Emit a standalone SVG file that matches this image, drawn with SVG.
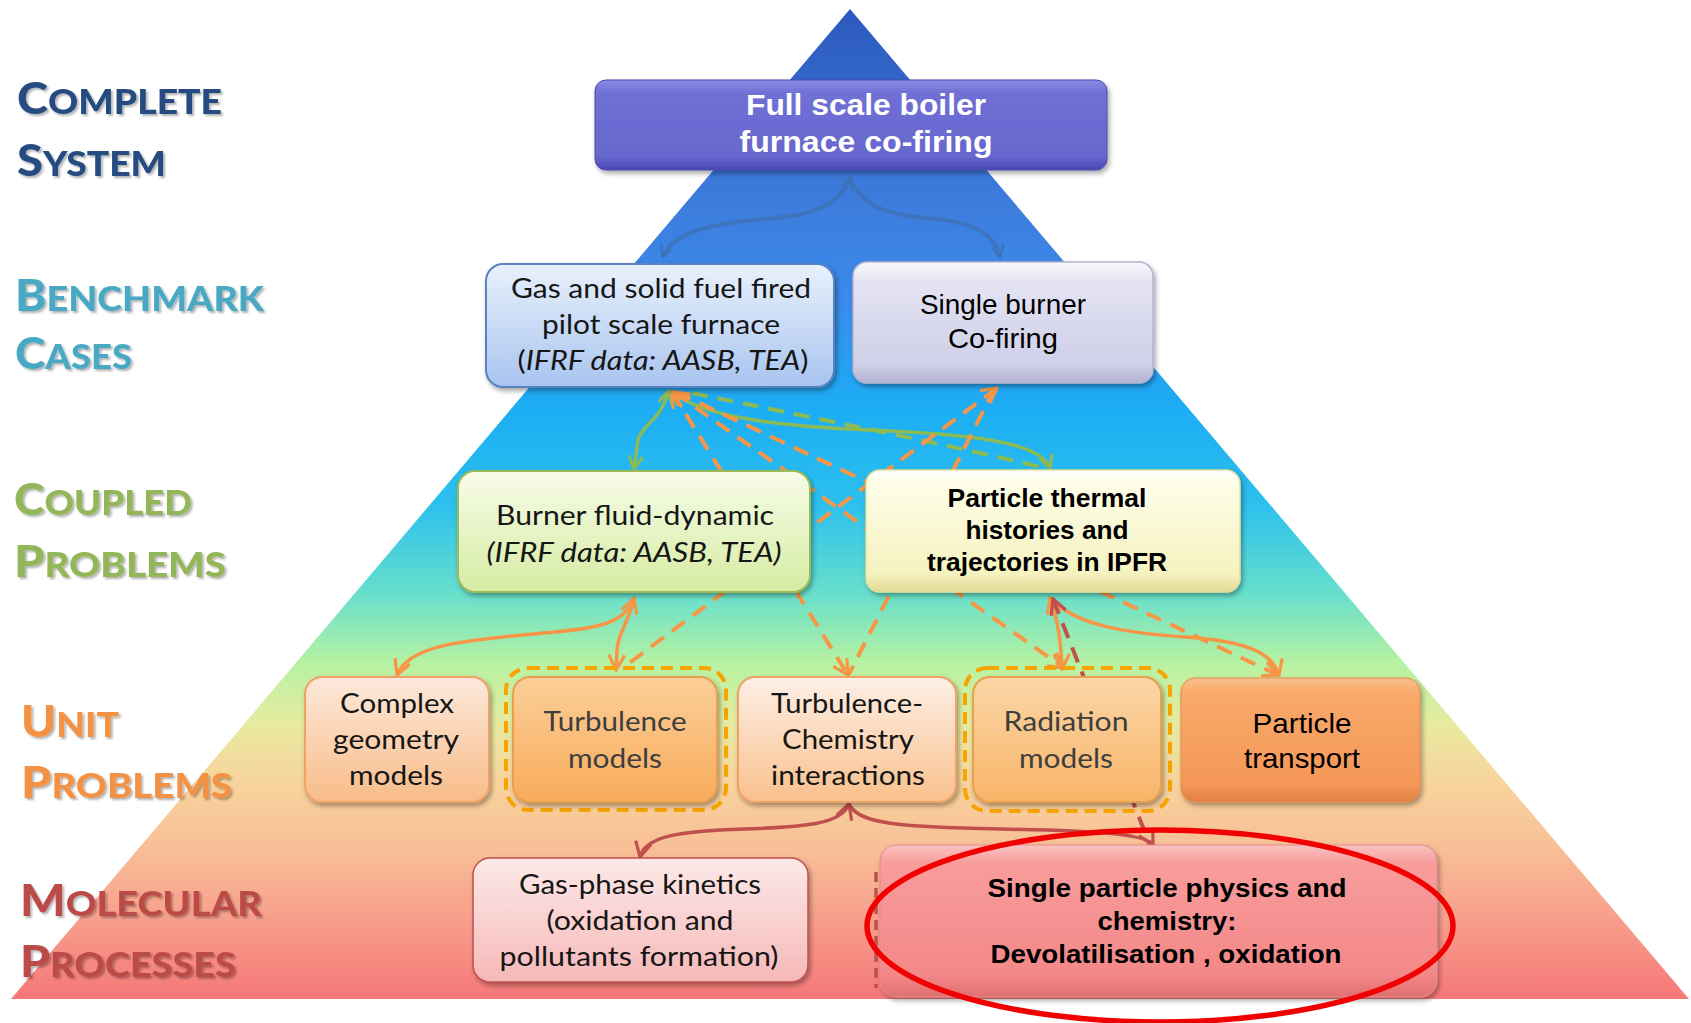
<svg xmlns="http://www.w3.org/2000/svg" width="1691" height="1023" viewBox="0 0 1691 1023">
<defs>
<style>
.lbl{font-family:Lato,"Open Sans","Liberation Sans",sans-serif;font-weight:900;filter:url(#tsh)}
.cal{font-family:Lato,"Open Sans","Liberation Sans",sans-serif;font-size:27px;fill:#161616;text-anchor:middle}
.gry{fill:#3e3e3e}
.ari{font-family:"Liberation Sans",Arial,sans-serif;text-anchor:middle;fill:#000}
.bold{font-weight:700}
.it{font-style:italic}
.box{filter:url(#sh)}
.dbox{fill:none;stroke:#f7a400;stroke-width:4;stroke-dasharray:12 7}
.cb{fill:none;stroke:#3f6fb0;stroke-width:4;stroke-opacity:.7}
.cg{fill:none;stroke:#8cbb56;stroke-width:3.5}
.co{fill:none;stroke:#f79646;stroke-width:3.5}
.cr{fill:none;stroke:#c0504d;stroke-width:3.5}
.dash{stroke-dasharray:16 10;stroke-width:4}
</style>
<linearGradient id="pyr" gradientUnits="userSpaceOnUse" x1="0" y1="9" x2="0" y2="999">
<stop offset="0" stop-color="#2c59be"/>
<stop offset="0.2" stop-color="#3d7ddd"/>
<stop offset="0.3" stop-color="#3a8cee"/>
<stop offset="0.4" stop-color="#1cacf4"/>
<stop offset="0.5" stop-color="#2cc0ee"/>
<stop offset="0.59" stop-color="#66dfcc"/>
<stop offset="0.66" stop-color="#b6f2a2"/>
<stop offset="0.72" stop-color="#e6eba0"/>
<stop offset="0.78" stop-color="#f8d49c"/>
<stop offset="0.85" stop-color="#f8be96"/>
<stop offset="0.92" stop-color="#f89e8c"/>
<stop offset="1" stop-color="#f67878"/>
</linearGradient>
<linearGradient id="gFull" x1="0" y1="0" x2="0" y2="1"><stop offset="0" stop-color="#8a8ae6"/><stop offset="0.15" stop-color="#6f6fd5"/><stop offset="0.85" stop-color="#6767ce"/><stop offset="1" stop-color="#4848b2"/></linearGradient>
<linearGradient id="gGas" x1="0" y1="0" x2="0" y2="1"><stop offset="0" stop-color="#e9f1fc"/><stop offset="1" stop-color="#a8c4ef"/></linearGradient>
<linearGradient id="gSingle" x1="0" y1="0" x2="0" y2="1"><stop offset="0" stop-color="#fafafe"/><stop offset="0.15" stop-color="#e4e4f4"/><stop offset="0.85" stop-color="#cfcfe8"/><stop offset="1" stop-color="#b2b2d2"/></linearGradient>
<linearGradient id="gBurner" x1="0" y1="0" x2="0" y2="1"><stop offset="0" stop-color="#f8fce9"/><stop offset="1" stop-color="#d5eca2"/></linearGradient>
<linearGradient id="gPT" x1="0" y1="0" x2="0" y2="1"><stop offset="0" stop-color="#ffffff"/><stop offset="0.12" stop-color="#fdfde6"/><stop offset="0.85" stop-color="#f6f2c0"/><stop offset="1" stop-color="#e2da94"/></linearGradient>
<linearGradient id="gComplex" x1="0" y1="0" x2="0" y2="1"><stop offset="0" stop-color="#fde9dc"/><stop offset="1" stop-color="#f8bc88"/></linearGradient>
<linearGradient id="gTurb" x1="0" y1="0" x2="0" y2="1"><stop offset="0" stop-color="#fbcf98"/><stop offset="1" stop-color="#f8ab5c"/></linearGradient>
<linearGradient id="gTC" x1="0" y1="0" x2="0" y2="1"><stop offset="0" stop-color="#fdefe6"/><stop offset="1" stop-color="#f9c08c"/></linearGradient>
<linearGradient id="gRad" x1="0" y1="0" x2="0" y2="1"><stop offset="0" stop-color="#fbd6a6"/><stop offset="1" stop-color="#f8b468"/></linearGradient>
<linearGradient id="gTrans" x1="0" y1="0" x2="0" y2="1"><stop offset="0" stop-color="#fbc090"/><stop offset="0.12" stop-color="#f8a96a"/><stop offset="0.85" stop-color="#f59858"/><stop offset="1" stop-color="#e08040"/></linearGradient>
<linearGradient id="gGasPh" x1="0" y1="0" x2="0" y2="1"><stop offset="0" stop-color="#fde9e9"/><stop offset="1" stop-color="#f6b8b8"/></linearGradient>
<linearGradient id="gSP" x1="0" y1="0" x2="0" y2="1"><stop offset="0" stop-color="#fcc2c2"/><stop offset="0.12" stop-color="#f89c9c"/><stop offset="0.85" stop-color="#f48888"/><stop offset="1" stop-color="#e07070"/></linearGradient>
<filter id="sh" x="-10%" y="-10%" width="125%" height="140%"><feDropShadow dx="2" dy="3" stdDeviation="2.5" flood-color="#000" flood-opacity="0.35"/></filter>
<filter id="tsh" x="-5%" y="-20%" width="115%" height="150%"><feDropShadow dx="2" dy="2" stdDeviation="1.3" flood-color="#000" flood-opacity="0.3"/></filter>
<marker id="aB" viewBox="0 0 14 14" refX="12" refY="7" markerWidth="14" markerHeight="14" markerUnits="userSpaceOnUse" orient="auto-start-reverse"><path d="M1,1 L12,7 L1,13" fill="none" stroke="#3f6fb0" stroke-opacity=".7" stroke-width="2.5"/></marker>
<marker id="aG" viewBox="0 0 16 16" refX="14" refY="8" markerWidth="16" markerHeight="16" markerUnits="userSpaceOnUse" orient="auto-start-reverse"><path d="M1,1 L14,8 L1,15" fill="none" stroke="#8cbb56" stroke-width="3"/></marker>
<marker id="aO" viewBox="0 0 18 18" refX="16" refY="9" markerWidth="18" markerHeight="18" markerUnits="userSpaceOnUse" orient="auto-start-reverse"><path d="M1,1 L16,9 L1,17" fill="none" stroke="#f79646" stroke-width="3.2"/></marker>
<marker id="aR" viewBox="0 0 18 18" refX="16" refY="9" markerWidth="18" markerHeight="18" markerUnits="userSpaceOnUse" orient="auto-start-reverse"><path d="M1,1 L16,9 L1,17" fill="none" stroke="#c0504d" stroke-width="3.2"/></marker>
</defs>
<rect width="1691" height="1023" fill="#fff"/>
<polygon id="pyramid" points="850,9 1689,999 11,999" fill="url(#pyr)"/>

<g id="level-labels">
<text class="lbl" x="17" y="114" fill="#254c80" textLength="205" lengthAdjust="spacingAndGlyphs"><tspan font-size="43">C</tspan><tspan font-size="34">OMPLETE</tspan></text>
<text class="lbl" x="17" y="176" fill="#254c80" textLength="149" lengthAdjust="spacingAndGlyphs"><tspan font-size="43">S</tspan><tspan font-size="34">YSTEM</tspan></text>
<text class="lbl" x="15" y="311" fill="#4aa9c5" textLength="249" lengthAdjust="spacingAndGlyphs"><tspan font-size="43">B</tspan><tspan font-size="34">ENCHMARK</tspan></text>
<text class="lbl" x="15" y="369" fill="#4aa9c5" textLength="117" lengthAdjust="spacingAndGlyphs"><tspan font-size="43">C</tspan><tspan font-size="34">ASES</tspan></text>
<text class="lbl" x="14" y="515" fill="#92b658" textLength="178" lengthAdjust="spacingAndGlyphs"><tspan font-size="43">C</tspan><tspan font-size="34">OUPLED</tspan></text>
<text class="lbl" x="14" y="577" fill="#92b658" textLength="212" lengthAdjust="spacingAndGlyphs"><tspan font-size="43">P</tspan><tspan font-size="34">ROBLEMS</tspan></text>
<text class="lbl" x="21" y="737" fill="#f39244" textLength="98" lengthAdjust="spacingAndGlyphs"><tspan font-size="43">U</tspan><tspan font-size="34">NIT</tspan></text>
<text class="lbl" x="21" y="798" fill="#f39244" textLength="211" lengthAdjust="spacingAndGlyphs"><tspan font-size="43">P</tspan><tspan font-size="34">ROBLEMS</tspan></text>
<text class="lbl" x="20" y="916" fill="#bb4c4a" textLength="242" lengthAdjust="spacingAndGlyphs"><tspan font-size="43">M</tspan><tspan font-size="34">OLECULAR</tspan></text>
<text class="lbl" x="20" y="977" fill="#bb4c4a" textLength="216" lengthAdjust="spacingAndGlyphs"><tspan font-size="43">P</tspan><tspan font-size="34">ROCESSES</tspan></text>
</g>

<g id="connectors">
<path class="cb" d="M850,178 C840,205 815,215 765,219 C710,224 672,232 663,257" marker-start="url(#aB)" marker-end="url(#aB)"/>
<path class="cb" d="M850,178 C860,205 885,215 935,219 C975,223 995,235 1000,257" marker-end="url(#aB)"/>
<path class="cg" d="M668,391 C662,420 642,424 638,440 L634,469" marker-start="url(#aG)" marker-end="url(#aG)"/>
<path class="cg" d="M672,392 C705,418 780,426 870,430 C960,434 1040,440 1050,468" marker-start="url(#aG)" marker-end="url(#aG)"/>
<path class="cg dash" d="M692,393 C800,415 950,445 1045,468"/>
<path class="co dash" d="M672,392 L848,675" marker-start="url(#aO)" marker-end="url(#aO)"/>
<path class="co dash" d="M674,392 L1064,668" marker-start="url(#aO)" marker-end="url(#aO)"/>
<path class="co dash" d="M676,392 L1278,675" marker-end="url(#aO)"/>
<path class="co dash" d="M997,388 L624,667" marker-start="url(#aO)"/>
<path class="co dash" d="M995,388 L849,674"/>
<path class="co" d="M634,598 C626,622 600,628 555,632 C475,640 410,642 397,675" marker-start="url(#aO)" marker-end="url(#aO)"/>
<path class="co" d="M634,598 C628,625 618,632 617,650 L616,670" marker-end="url(#aO)"/>
<path class="co" d="M1050,598 C1058,622 1061,640 1062,669" marker-start="url(#aO)" marker-end="url(#aO)"/>
<path class="co" d="M1050,598 C1075,625 1125,633 1185,637 C1245,641 1272,652 1279,675" marker-end="url(#aO)"/>
<path class="cr dash" d="M1053,599 L1150,845" marker-start="url(#aR)"/>
<path class="cr" d="M849,804 C842,824 805,827 745,829 C680,831 645,836 640,857" marker-start="url(#aR)" marker-end="url(#aR)"/>
<path class="cr" d="M849,804 C858,824 900,827 1000,829 C1100,831 1147,834 1153,845" marker-end="url(#aR)"/>
<path class="cr" d="M876,872 L876,988" stroke-dasharray="10 6"/>
</g>

<g id="node-full-scale">
<rect class="box" x="595" y="80" width="512" height="90" rx="11" fill="url(#gFull)" stroke="#4a4ab0" stroke-width="1"/>
<text class="ari bold" x="866" y="115" font-size="29" style="fill:#fff" textLength="240" lengthAdjust="spacingAndGlyphs">Full scale boiler</text>
<text class="ari bold" x="866" y="152" font-size="29" style="fill:#fff" textLength="253" lengthAdjust="spacingAndGlyphs">furnace co-firing</text>
</g>

<g id="node-gas-solid">
<rect class="box" x="486" y="264" width="348" height="123" rx="17" fill="url(#gGas)" stroke="#5a82c0" stroke-width="2"/>
<text class="cal" x="661" y="298" textLength="300" lengthAdjust="spacingAndGlyphs">Gas and solid fuel fired</text>
<text class="cal" x="661" y="334" textLength="238" lengthAdjust="spacingAndGlyphs">pilot scale furnace</text>
<text class="cal" x="663" y="370" textLength="291" lengthAdjust="spacingAndGlyphs">(<tspan class="it">IFRF data: AASB, TEA</tspan>)</text>
</g>

<g id="node-single-burner">
<rect class="box" x="853" y="262" width="300" height="121" rx="14" fill="url(#gSingle)" stroke="#b4b4d0" stroke-width="1.5"/>
<text class="ari" x="1003" y="314" font-size="28" textLength="166" lengthAdjust="spacingAndGlyphs">Single burner</text>
<text class="ari" x="1003" y="348" font-size="28" textLength="110" lengthAdjust="spacingAndGlyphs">Co-firing</text>
</g>

<g id="node-burner-fluid">
<rect class="box" x="458" y="471" width="352" height="121" rx="17" fill="url(#gBurner)" stroke="#9bbb59" stroke-width="2"/>
<text class="cal" x="635" y="525" textLength="278" lengthAdjust="spacingAndGlyphs">Burner fluid-dynamic</text>
<text class="cal it" x="634" y="562" textLength="295" lengthAdjust="spacingAndGlyphs">(IFRF data: AASB, TEA)</text>
</g>

<g id="node-particle-thermal">
<rect class="box" x="866" y="470" width="374" height="122" rx="14" fill="url(#gPT)" stroke="#e4df9e" stroke-width="1.5"/>
<text class="ari bold" x="1047" y="507" font-size="25" textLength="199" lengthAdjust="spacingAndGlyphs">Particle thermal</text>
<text class="ari bold" x="1047" y="539" font-size="25" textLength="163" lengthAdjust="spacingAndGlyphs">histories and</text>
<text class="ari bold" x="1047" y="571" font-size="25" textLength="240" lengthAdjust="spacingAndGlyphs">trajectories in IPFR</text>
</g>

<g id="node-complex-geometry">
<rect class="box" x="305" y="677" width="184" height="125" rx="17" fill="url(#gComplex)" stroke="#eea264" stroke-width="2"/>
<text class="cal" x="397" y="713" textLength="114" lengthAdjust="spacingAndGlyphs">Complex</text>
<text class="cal" x="396" y="749" textLength="126" lengthAdjust="spacingAndGlyphs">geometry</text>
<text class="cal" x="396" y="785" textLength="94" lengthAdjust="spacingAndGlyphs">models</text>
</g>

<g id="node-turbulence">
<rect class="dbox" x="506" y="668" width="220" height="142" rx="22"/>
<rect class="box" x="513" y="677" width="204" height="125" rx="17" fill="url(#gTurb)" stroke="#e8a050" stroke-width="2"/>
<text class="cal gry" x="615" y="731" textLength="143" lengthAdjust="spacingAndGlyphs">Turbulence</text>
<text class="cal gry" x="615" y="768" textLength="94" lengthAdjust="spacingAndGlyphs">models</text>
</g>

<g id="node-turbulence-chemistry">
<rect class="box" x="738" y="677" width="218" height="125" rx="17" fill="url(#gTC)" stroke="#eea264" stroke-width="2"/>
<text class="cal" x="847" y="713" textLength="152" lengthAdjust="spacingAndGlyphs">Turbulence-</text>
<text class="cal" x="848" y="749" textLength="132" lengthAdjust="spacingAndGlyphs">Chemistry</text>
<text class="cal" x="848" y="785" textLength="154" lengthAdjust="spacingAndGlyphs">interactions</text>
</g>

<g id="node-radiation">
<rect class="dbox" x="965" y="668" width="205" height="143" rx="22"/>
<rect class="box" x="973" y="677" width="188" height="125" rx="17" fill="url(#gRad)" stroke="#e8a050" stroke-width="2"/>
<text class="cal gry" x="1066" y="731" textLength="125" lengthAdjust="spacingAndGlyphs">Radiation</text>
<text class="cal gry" x="1066" y="768" textLength="94" lengthAdjust="spacingAndGlyphs">models</text>
</g>

<g id="node-particle-transport">
<rect class="box" x="1181" y="678" width="239" height="124" rx="14" fill="url(#gTrans)" stroke="#e48a4a" stroke-width="1"/>
<text class="ari" x="1302" y="733" font-size="28" textLength="99" lengthAdjust="spacingAndGlyphs">Particle</text>
<text class="ari" x="1302" y="768" font-size="28" textLength="116" lengthAdjust="spacingAndGlyphs">transport</text>
</g>

<g id="node-gas-phase">
<rect class="box" x="473" y="858" width="335" height="124" rx="17" fill="url(#gGasPh)" stroke="#c0504d" stroke-width="1.5"/>
<text class="cal" x="640" y="894" textLength="242" lengthAdjust="spacingAndGlyphs">Gas-phase kinetics</text>
<text class="cal" x="640" y="930" textLength="187" lengthAdjust="spacingAndGlyphs">(oxidation and</text>
<text class="cal" x="639" y="966" textLength="279" lengthAdjust="spacingAndGlyphs">pollutants formation)</text>
</g>

<g id="node-single-particle">
<rect class="box" x="880" y="845" width="557" height="152" rx="16" fill="url(#gSP)" stroke="#e88a8a" stroke-width="1"/>
<text class="ari bold" x="1167" y="897" font-size="26" textLength="359" lengthAdjust="spacingAndGlyphs">Single particle physics and</text>
<text class="ari bold" x="1167" y="930" font-size="26" textLength="139" lengthAdjust="spacingAndGlyphs">chemistry:</text>
<text class="ari bold" x="1166" y="963" font-size="26" textLength="351" lengthAdjust="spacingAndGlyphs">Devolatilisation , oxidation</text>
</g>

<ellipse id="highlight" cx="1160" cy="926" rx="293" ry="96" fill="none" stroke="#f00000" stroke-width="5.5"/>
</svg>
